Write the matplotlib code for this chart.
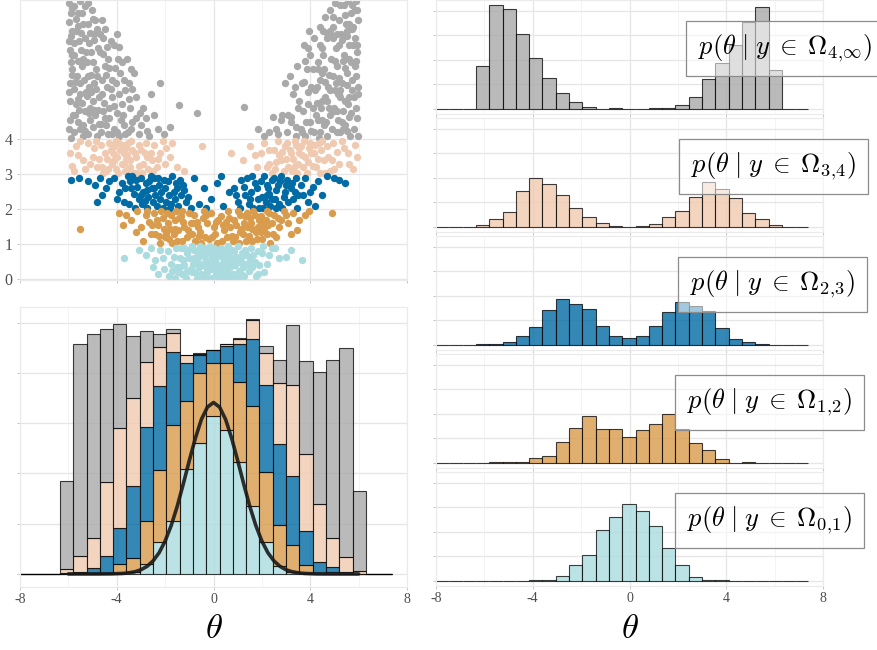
import numpy as np
import matplotlib
matplotlib.use("Agg")
import matplotlib.pyplot as plt
from matplotlib.colors import to_rgba

plt.rcParams['mathtext.fontset'] = 'cm'
plt.rcParams['axes.unicode_minus'] = False
plt.rcParams['font.family'] = ['Liberation Serif', 'DejaVu Serif']

# ---- histogram counts per y-band, bins of width 0.55 from -8 to 7.4 ----
bin_edges_lo = -8.0
bin_w = 0.55
cnt_gray = [0, 0, 0, 175, 422, 405, 306, 207, 124, 63, 26, 7, 0, 1, 0, 0, 1, 1, 15, 46, 120, 185, 262, 355, 416, 160, 0, 0]
cnt_peach = [0, 0, 0, 8, 31, 60, 146, 199, 175, 129, 78, 38, 15, 3, 0, 3, 11, 39, 64, 122, 182, 154, 116, 57, 31, 5, 0, 0]
cnt_blue = [0, 0, 0, 1, 3, 11, 35, 71, 143, 186, 167, 146, 76, 35, 26, 35, 76, 132, 173, 160, 137, 68, 24, 11, 3, 0, 0, 0]
cnt_orange = [0, 0, 0, 0, 1, 1, 1, 19, 27, 86, 143, 190, 136, 139, 106, 133, 159, 200, 139, 82, 53, 16, 0, 3, 0, 0, 0, 0]
cnt_cyan = [0, 0, 0, 0, 0, 0, 0, 1, 4, 20, 64, 106, 208, 261, 314, 286, 222, 135, 63, 16, 4, 1, 0, 0, 0, 0, 0, 0]

# prior density curve (scaled to counts), read at theta = -6 .. 6 step 0.25
curve_theta = np.linspace(-6, 6, 49)
curve_h = [0, 0, 0, 0, 0, 0, 0.1, 0.2, 0.5, 1.0, 2.2, 4.3, 8.3, 15, 25.8, 42.1, 65.3, 96.2, 134.5, 178.8,
           225.6, 270, 307.5, 332, 341, 332, 307.5, 270, 225.6, 178.8, 134.5, 96.2, 65.3, 42.1, 25.8, 15,
           8.3, 4.3, 2.2, 1.0, 0.5, 0.2, 0.1, 0, 0, 0, 0, 0, 0]

# ---- scatter of (theta, y), thinned sample ----
gray_pts = [(-5.98, 4.3), (-5.92, 5.1), (-5.85, 6.0), (-5.96, 6.8), (-5.88, 7.6), (-5.82, 4.7), (-5.94, 5.6),
            (-5.86, 7.1), (-5.99, 7.9), (-5.83, 6.4), (-5.9, 4.05),
            (-5.75, 4.2), (-5.6, 4.5), (-5.4, 4.1), (-5.3, 4.8), (-5.7, 5.0), (-5.5, 5.3), (-5.35, 5.7),
            (-5.65, 5.8), (-5.45, 6.1), (-5.78, 6.4), (-5.28, 6.5), (-5.55, 6.8), (-5.7, 7.1), (-5.4, 7.3),
            (-5.62, 7.6), (-5.3, 7.8), (-5.5, 7.95), (-5.77, 5.45), (-5.38, 4.4), (-5.58, 4.85), (-5.48, 6.55),
            (-5.68, 7.45),
            (-5.2, 4.15), (-5.0, 4.35), (-4.8, 4.1), (-4.9, 4.7), (-5.1, 4.9), (-4.75, 5.2), (-5.15, 5.5),
            (-4.95, 5.6), (-4.85, 6.0), (-5.22, 6.2), (-5.05, 6.5), (-4.78, 6.6), (-4.92, 7.0), (-5.18, 7.3),
            (-5.02, 7.7), (-4.88, 7.4), (-5.12, 4.55), (-4.72, 4.45), (-5.08, 5.85), (-4.98, 5.1),
            (-4.65, 4.2), (-4.45, 4.4), (-4.2, 4.15), (-4.55, 4.8), (-4.3, 4.9), (-4.6, 5.3), (-4.4, 5.5),
            (-4.2, 5.7), (-4.5, 6.1), (-4.68, 6.5), (-4.35, 6.3), (-4.58, 6.9), (-4.25, 6.8), (-4.62, 7.4),
            (-4.48, 4.6), (-4.18, 5.2),
            (-4.1, 4.3), (-3.9, 4.1), (-3.7, 4.4), (-4.0, 4.75), (-3.8, 5.0), (-3.65, 5.4), (-4.05, 5.6),
            (-3.85, 5.9), (-3.95, 6.3), (-4.12, 6.7), (-3.75, 4.7), (-3.98, 7.0),
            (-3.55, 4.2), (-3.35, 4.5), (-3.1, 4.15), (-3.45, 4.9), (-3.2, 5.2), (-3.5, 5.6), (-3.3, 5.9),
            (-3.58, 6.3), (-3.0, 4.4), (-2.75, 4.25), (-2.9, 4.9), (-2.6, 5.3), (-2.3, 4.3), (-2.2, 5.6),
            (-1.42, 4.98), (-0.69, 4.74), (1.28, 4.91),
            (-5.95, 4.55), (-5.97, 5.35), (-5.91, 6.2), (-5.89, 6.95), (-5.96, 7.35), (-5.84, 7.75), (-5.87, 5.85),
            (-5.93, 6.55), (-5.72, 4.7), (-5.52, 4.3), (-5.33, 4.25), (-5.62, 5.15), (-5.42, 5.05), (-5.27, 5.35),
            (-5.72, 5.65), (-5.52, 5.6), (-5.38, 6.3), (-5.6, 6.25), (-5.75, 6.75), (-5.33, 6.9), (-5.48, 7.05),
            (-5.75, 7.8), (-5.45, 7.6), (-5.6, 7.25), (-5.15, 4.75), (-4.95, 4.85), (-4.78, 4.85), (-5.22, 5.25),
            (-5.05, 5.35), (-4.85, 5.45), (-5.18, 5.8), (-4.8, 5.8), (-5.0, 6.2), (-5.15, 6.75), (-4.95, 6.85),
            (-4.8, 7.15), (-5.1, 7.05), (-4.98, 7.45), (-5.2, 7.9), (-4.65, 4.45), (-4.38, 4.15), (-4.3, 4.6),
            (-4.52, 5.05), (-4.25, 5.45), (-4.62, 5.7), (-4.45, 5.85), (-4.3, 6.05), (-4.55, 6.45), (-4.42, 6.65),
            (-4.5, 7.15), (-4.7, 7.0), (-4.0, 4.2), (-3.82, 4.55), (-3.65, 4.15), (-4.1, 4.95), (-3.9, 5.3),
            (-3.72, 5.7), (-4.08, 6.05), (-3.8, 6.2), (-3.9, 6.65), (-3.4, 4.3), (-3.2, 4.6), (-3.5, 5.15),
            (-3.35, 5.45), (-3.05, 4.75), (-2.8, 4.6), (-2.65, 4.1), (-2.45, 4.7), (-2.05, 4.15), (-1.8, 4.35),
            (-3.4, 6.0),
            (2.3, 4.2), (2.6, 4.3), (2.85, 4.7), (2.95, 5.6),
            (3.05, 4.2), (3.2, 4.5), (3.4, 4.1), (3.5, 4.9), (3.3, 5.3), (3.15, 5.8), (3.45, 6.1),
            (3.6, 4.3), (3.8, 4.1), (4.0, 4.5), (3.7, 4.8), (3.9, 5.0), (4.05, 5.5), (3.65, 5.6), (3.85, 6.0),
            (4.0, 6.4), (3.75, 6.7), (3.95, 7.1),
            (4.15, 4.2), (4.35, 4.05), (4.55, 4.4), (4.25, 4.7), (4.45, 4.9), (4.6, 5.2), (4.2, 5.4), (4.4, 5.7),
            (4.58, 6.0), (4.3, 6.2), (4.5, 6.6), (4.15, 6.9), (4.4, 7.2), (4.62, 7.5), (4.28, 5.05), (4.48, 4.55),
            (4.7, 4.1), (4.9, 4.3), (5.1, 4.2), (4.8, 4.7), (5.0, 4.9), (5.15, 5.3), (4.75, 5.5), (4.95, 5.8),
            (5.12, 6.1), (4.85, 6.3), (5.05, 6.6), (4.7, 6.9), (4.92, 7.2), (5.18, 7.4), (4.8, 7.7), (5.02, 7.9),
            (4.68, 5.1), (5.08, 5.6), (4.88, 6.95), (5.16, 4.55),
            (5.25, 4.2), (5.45, 4.4), (5.65, 4.1), (5.35, 4.8), (5.55, 5.0), (5.72, 5.4), (5.3, 5.6), (5.5, 5.9),
            (5.7, 6.2), (5.4, 6.4), (5.6, 6.7), (5.28, 7.0), (5.48, 7.3), (5.68, 7.6), (5.38, 7.85), (5.58, 7.95),
            (5.22, 5.2), (5.62, 4.65), (5.42, 6.05), (5.52, 6.95), (5.74, 7.15), (5.32, 4.5),
            (5.8, 4.3), (5.9, 4.9), (5.97, 5.5), (5.85, 6.1), (5.93, 6.7), (5.78, 7.2), (5.95, 7.7), (5.88, 7.95),
            (5.82, 5.2), (5.99, 4.1),
            (5.94, 4.6), (5.98, 5.3), (5.9, 6.25), (5.86, 6.9), (5.97, 7.4), (5.83, 7.7), (5.88, 5.8),
            (5.95, 6.5), (5.7, 4.75), (5.5, 4.25), (5.36, 4.3), (5.6, 5.2), (5.44, 5.1), (5.25, 5.4),
            (5.74, 5.7), (5.5, 5.55), (5.36, 6.25), (5.62, 6.3), (5.76, 6.7), (5.3, 6.85), (5.5, 7.1),
            (5.72, 7.85), (5.43, 7.55), (5.62, 7.3), (5.12, 4.8), (4.97, 4.8), (4.76, 4.9), (5.2, 5.3),
            (5.03, 5.4), (4.83, 5.4), (5.2, 5.75), (4.78, 5.85), (5.02, 6.25), (5.17, 6.7), (4.93, 6.9),
            (4.82, 7.1), (5.12, 7.0), (4.96, 7.5), (5.22, 7.85), (4.67, 4.5), (4.4, 4.2), (4.32, 4.55),
            (4.5, 5.1), (4.27, 5.5), (4.6, 5.65), (4.47, 5.9), (4.33, 6.0), (4.53, 6.4), (4.4, 6.7),
            (4.52, 7.1), (4.68, 7.05), (4.02, 4.25), (3.84, 4.5), (3.67, 4.2), (4.12, 4.9), (3.92, 5.35),
            (3.74, 5.65), (4.1, 6.0), (3.78, 6.25), (3.92, 6.6), (3.42, 4.35), (3.22, 4.65), (3.52, 5.1),
            (3.37, 5.5), (3.07, 4.7), (2.78, 4.55), (2.67, 4.15), (2.47, 4.65), (2.1, 4.1), (1.85, 4.3)]

peach_pts = [(-5.95, 3.6), (-5.7, 3.8), (-5.4, 3.4), (-5.2, 3.9), (-5.0, 3.5), (-4.8, 3.2), (-4.95, 3.75),
             (-4.65, 3.85), (-4.5, 3.6), (-4.3, 3.9), (-4.2, 3.3), (-4.6, 3.2), (-4.4, 3.45), (-4.25, 3.7),
             (-4.55, 3.05), (-4.35, 3.15),
             (-4.1, 3.8), (-3.9, 3.9), (-3.7, 3.6), (-4.0, 3.5), (-3.8, 3.3), (-3.65, 3.1), (-4.05, 3.15),
             (-3.85, 3.7), (-3.95, 3.05), (-3.75, 3.85), (-4.12, 3.4), (-3.62, 3.45),
             (-3.55, 3.9), (-3.35, 3.7), (-3.1, 3.85), (-3.45, 3.4), (-3.2, 3.5), (-3.5, 3.15), (-3.3, 3.05),
             (-3.08, 3.25), (-3.4, 3.95), (-3.25, 3.6), (-3.58, 3.55),
             (-3.0, 3.7), (-2.8, 3.9), (-2.6, 3.6), (-2.9, 3.3), (-2.7, 3.15), (-2.55, 3.4), (-2.95, 3.05),
             (-2.75, 3.5), (-2.45, 3.85), (-2.2, 3.6), (-2.0, 3.3), (-2.35, 3.2), (-2.1, 3.95),
             (-1.8, 3.5), (-1.5, 3.2), (-1.2, 3.1), (-0.48, 3.8), (0.73, 3.62),
             (-5.85, 3.25), (-5.6, 3.55), (-5.5, 3.95), (-5.3, 3.15), (-5.1, 3.3), (-4.85, 3.95), (-4.75, 3.45),
             (-4.45, 3.1), (-4.15, 3.6), (-3.72, 3.3), (-3.45, 3.2), (-3.15, 3.05), (-2.85, 3.6), (-2.5, 3.1),
             (-2.3, 3.45), (-1.95, 3.75), (-1.7, 3.9), (-5.75, 3.1), (-4.05, 3.95), (-3.6, 3.75),
             (1.2, 3.4), (1.5, 3.8), (1.8, 3.2), (1.95, 3.6), (2.1, 3.9), (2.3, 3.3), (2.4, 3.05),
             (2.5, 3.7), (2.65, 3.95), (2.8, 3.4), (2.95, 3.8), (2.55, 3.15), (2.7, 3.55), (2.9, 3.1), (2.85, 3.65),
             (3.05, 3.9), (3.2, 3.6), (3.4, 3.85), (3.5, 3.3), (3.1, 3.2), (3.3, 3.45), (3.45, 3.05), (3.15, 3.7),
             (3.35, 3.95), (3.52, 3.6), (3.25, 3.1),
             (3.6, 3.8), (3.8, 3.5), (4.0, 3.9), (3.7, 3.2), (3.9, 3.35), (4.05, 3.6), (3.65, 3.55), (3.85, 3.05),
             (3.95, 3.75), (4.15, 3.6), (4.35, 3.9), (4.55, 3.4), (4.25, 3.2), (4.45, 3.7), (4.6, 3.05), (4.3, 3.45),
             (4.7, 3.8), (4.9, 3.4), (5.1, 3.65), (5.0, 3.15), (5.4, 3.75), (5.6, 3.3), (5.95, 3.5),
             (1.7, 3.55), (2.2, 3.2), (2.6, 3.35), (3.0, 3.45), (3.35, 3.25), (3.75, 3.95), (4.1, 3.25),
             (4.4, 3.05), (4.5, 3.95), (4.75, 3.5), (4.95, 3.9), (5.2, 3.3), (5.3, 3.95), (5.55, 3.6),
             (5.75, 3.15), (5.85, 3.85), (4.2, 3.85), (3.55, 3.75), (2.3, 3.7), (4.8, 3.1)]

blue_pts = [(-5.9, 2.85), (-5.55, 2.9), (-4.9, 2.7), (-4.6, 2.4), (-4.3, 2.8),
            (-4.1, 2.9), (-3.9, 2.5), (-3.7, 2.2), (-3.8, 2.75),
            (-3.55, 2.95), (-3.4, 2.6), (-3.2, 2.85), (-3.1, 2.3), (-3.5, 2.15), (-3.3, 2.45), (-3.15, 2.65),
            (-3.45, 2.8), (-3.25, 2.05),
            (-3.0, 2.9), (-2.8, 2.75), (-2.6, 2.95), (-2.9, 2.5), (-2.7, 2.35), (-2.55, 2.6), (-2.95, 2.15),
            (-2.75, 2.05), (-2.85, 2.25), (-2.65, 2.8), (-2.52, 2.2),
            (-2.45, 2.9), (-2.25, 2.7), (-2.05, 2.85), (-2.4, 2.4), (-2.15, 2.5), (-1.98, 2.2), (-2.35, 2.1),
            (-2.2, 2.3), (-2.48, 2.6), (-2.1, 2.05),
            (-1.9, 2.8), (-1.7, 2.95), (-1.5, 2.6), (-1.85, 2.4), (-1.6, 2.3), (-1.45, 2.1), (-1.75, 2.15),
            (-1.55, 2.75), (-1.65, 2.5),
            (-1.35, 2.4), (-1.15, 2.2), (-0.95, 2.05), (-1.25, 2.7), (-1.05, 2.35),
            (-0.6, 2.15), (-0.4, 2.6), (-0.1, 2.3), (0.15, 2.75), (0.4, 2.1), (0.65, 2.5),
            (0.85, 2.6), (1.0, 2.2), (1.15, 2.85), (1.3, 2.4), (1.1, 2.05),
            (1.4, 2.9), (1.55, 2.5), (1.7, 2.75), (1.85, 2.3), (1.45, 2.15), (1.65, 2.05), (1.8, 2.6), (1.6, 2.95),
            (1.95, 2.8), (2.1, 2.95), (2.25, 2.6), (2.4, 2.85), (2.0, 2.35), (2.15, 2.2), (2.3, 2.45), (2.05, 2.05),
            (2.35, 2.1), (2.2, 2.7), (2.42, 2.3),
            (2.5, 2.9), (2.65, 2.7), (2.8, 2.95), (2.95, 2.5), (2.55, 2.3), (2.7, 2.15), (2.9, 2.35), (2.6, 2.55),
            (2.85, 2.05), (2.75, 2.8),
            (3.05, 2.85), (3.2, 2.6), (3.4, 2.9), (3.5, 2.4), (3.1, 2.2), (3.3, 2.3), (3.45, 2.05), (3.25, 2.75),
            (3.6, 2.7), (3.8, 2.9), (4.0, 2.5), (3.9, 2.2), (4.3, 2.8), (4.5, 2.4), (5.0, 2.9), (5.45, 2.75),
            (-5.2, 2.8), (-4.7, 2.9), (-4.45, 2.6), (-4.0, 2.3), (-3.65, 2.6), (-3.35, 2.95), (-3.0, 2.4),
            (-2.75, 2.55), (-2.3, 2.9), (-2.0, 2.6), (-1.8, 2.05), (-1.4, 2.85), (-1.2, 2.55), (-0.8, 2.9),
            (-0.3, 2.05), (0.3, 2.95), (0.95, 2.4), (1.25, 2.65), (1.5, 2.3), (1.9, 2.05), (2.2, 2.4),
            (2.6, 2.05), (3.0, 2.7), (3.35, 2.5), (3.7, 2.4), (4.1, 2.65), (4.7, 2.95), (5.2, 2.85),
            (4.2, 2.1), (-4.8, 2.2)]

orange_pts = [(-5.5, 1.45), (4.9, 1.9), (-3.9, 1.9), (-3.4, 1.7), (-3.15, 1.95),
              (-3.0, 1.5), (-2.8, 1.85), (-2.6, 1.3), (-2.9, 1.1), (-2.65, 1.65),
              (-2.45, 1.9), (-2.3, 1.55), (-2.1, 1.75), (-2.0, 1.2), (-2.4, 1.3), (-2.2, 1.05), (-2.35, 1.7),
              (-2.05, 1.45), (-2.15, 1.95),
              (-1.9, 1.6), (-1.75, 1.85), (-1.55, 1.95), (-1.45, 1.4), (-1.85, 1.15), (-1.65, 1.3), (-1.5, 1.1),
              (-1.8, 1.45), (-1.6, 1.7), (-1.42, 1.75), (-1.7, 1.05), (-1.92, 1.9),
              (-1.35, 1.8), (-1.2, 1.5), (-1.0, 1.9), (-0.9, 1.3), (-1.3, 1.1), (-1.1, 1.2), (-0.95, 1.6), (-1.25, 1.65),
              (-0.8, 1.85), (-0.65, 1.5), (-0.45, 1.75), (-0.35, 1.2), (-0.75, 1.1), (-0.55, 1.35), (-0.4, 1.95),
              (-0.7, 1.65), (-0.5, 1.05),
              (-0.25, 1.6), (-0.1, 1.9), (0.05, 1.3), (0.2, 1.7), (-0.2, 1.15), (0.0, 1.5), (0.15, 1.05),
              (0.3, 1.8), (0.45, 1.4), (0.6, 1.95), (0.75, 1.25), (0.35, 1.1), (0.5, 1.65), (0.7, 1.5), (0.55, 1.2),
              (0.85, 1.7), (1.0, 1.95), (1.15, 1.45), (1.3, 1.8), (0.9, 1.2), (1.05, 1.05), (1.2, 1.3), (0.95, 1.55),
              (1.25, 1.6), (1.1, 1.85),
              (1.4, 1.9), (1.55, 1.6), (1.7, 1.85), (1.85, 1.5), (1.45, 1.25), (1.6, 1.1), (1.75, 1.35), (1.5, 1.75),
              (1.65, 1.95), (1.8, 1.15), (1.38, 1.5), (1.88, 1.7),
              (1.95, 1.8), (2.1, 1.45), (2.3, 1.9), (2.4, 1.6), (2.0, 1.15), (2.2, 1.3), (2.35, 1.05), (2.15, 1.7),
              (2.25, 1.55), (2.5, 1.85), (2.7, 1.5), (2.9, 1.95), (2.6, 1.2), (2.8, 1.7),
              (3.1, 1.6), (3.3, 1.9), (3.45, 1.4), (3.8, 1.85),
              (-3.6, 1.85), (-3.2, 1.35), (-2.75, 1.95), (-2.55, 1.55), (-2.25, 1.25), (-1.95, 1.3), (-1.6, 1.45),
              (-1.3, 1.95), (-1.05, 1.4), (-0.85, 1.6), (-0.6, 1.25), (-0.3, 1.85), (-0.05, 1.2), (0.1, 1.65),
              (0.4, 1.55), (0.65, 1.75), (0.8, 1.1), (1.1, 1.35), (1.35, 1.1), (1.6, 1.45), (1.95, 1.35),
              (2.2, 1.95), (2.45, 1.3), (2.65, 1.75), (3.0, 1.85), (3.2, 1.3), (3.55, 1.7), (3.95, 1.95),
              (-3.75, 1.55), (2.05, 1.6)]

cyan_pts = [(-3.7, 0.6), (3.65, 0.55), (-2.8, 0.7),
            (-2.4, 0.55), (-2.2, 0.85), (-2.05, 0.3), (-2.3, 0.15),
            (-1.9, 0.8), (-1.75, 0.45), (-1.55, 0.9), (-1.45, 0.2), (-1.85, 0.1), (-1.65, 0.65), (-1.5, 0.35),
            (-1.35, 0.9), (-1.25, 0.55), (-1.1, 0.75), (-0.95, 0.3), (-1.3, 0.15), (-1.15, 0.05), (-1.0, 0.6),
            (-0.9, 0.95), (-1.2, 0.4), (-1.05, 0.85), (-0.88, 0.2), (-1.38, 0.35), (-1.08, 0.25),
            (-0.8, 0.85), (-0.7, 0.5), (-0.55, 0.95), (-0.4, 0.7), (-0.35, 0.1), (-0.75, 0.2), (-0.6, 0.35),
            (-0.45, 0.45), (-0.65, 0.75), (-0.5, 0.15), (-0.82, 0.6), (-0.38, 0.9), (-0.52, 0.05), (-0.7, 0.05),
            (-0.32, 0.55), (-0.58, 0.65),
            (-0.28, 0.8), (-0.15, 0.95), (0.0, 0.7), (0.15, 0.85), (0.22, 0.4), (-0.2, 0.5), (-0.05, 0.3),
            (0.1, 0.15), (-0.25, 0.2), (0.05, 0.55), (0.2, 0.05), (-0.1, 0.05), (-0.22, 0.35), (0.12, 0.65),
            (-0.08, 0.6), (0.18, 0.25), (0.02, 0.9), (-0.18, 0.75), (0.08, 0.4),
            (0.3, 0.9), (0.45, 0.75), (0.6, 0.95), (0.75, 0.6), (0.35, 0.45), (0.5, 0.3), (0.65, 0.15), (0.28, 0.1),
            (0.4, 0.6), (0.55, 0.55), (0.7, 0.35), (0.78, 0.85), (0.32, 0.25), (0.48, 0.05), (0.62, 0.7),
            (0.42, 0.2), (0.58, 0.4), (0.72, 0.05),
            (0.85, 0.8), (1.0, 0.95), (1.15, 0.6), (1.3, 0.85), (0.9, 0.4), (1.05, 0.25), (1.2, 0.35), (0.95, 0.65),
            (1.25, 0.1), (1.1, 0.5), (0.82, 0.15), (1.32, 0.45), (1.02, 0.05), (1.18, 0.75),
            (1.4, 0.7), (1.55, 0.9), (1.7, 0.5), (1.85, 0.8), (1.45, 0.25), (1.6, 0.35), (1.75, 0.1), (1.5, 0.55),
            (2.0, 0.75), (2.2, 0.45), (2.4, 0.9), (2.1, 0.2), (2.7, 0.6), (3.2, 0.85),
            (-2.6, 0.9), (-2.1, 0.6), (-1.7, 0.25), (-1.4, 0.6), (-1.2, 0.9), (-0.85, 0.45), (-0.6, 0.85),
            (-0.3, 0.35), (-0.05, 0.9), (0.25, 0.7), (0.5, 0.85), (0.68, 0.5), (0.88, 0.6), (1.12, 0.15),
            (1.4, 0.45), (1.65, 0.7), (1.9, 0.4), (2.3, 0.7), (2.55, 0.9), (3.0, 0.65), (-3.1, 0.85),
            (-2.5, 0.35), (1.85, 0.15), (-1.6, 0.05), (2.05, 0.95)]

band_labels = ['4,\\!\\infty', '3,\\!4', '2,\\!3', '1,\\!2', '0,\\!1']

c_gray, c_peach, c_blue, c_orange, c_cyan = '#A9A9A9', '#EFCAB0', '#006BA4', '#D99B4C', '#AADCDF'

W, H = 877, 650
fig = plt.figure(figsize=(W / 100, H / 100), dpi=100)


def px_box(x0, y0, x1, y1):
    return [x0 / W, 1 - y1 / H, (x1 - x0) / W, (y1 - y0) / H]


def style(ax):
    ax.set_xlim(-8, 8)
    ax.set_xticks([-8, -4, 0, 4, 8])
    ax.set_xticks([-6, -2, 2, 6], minor=True)
    ax.grid(True, which='major', color='#E6E6E6', lw=0.9)
    ax.grid(True, which='minor', axis='x', color='#F2F2F2', lw=0.6)
    ax.set_axisbelow(True)
    for s in ax.spines.values():
        s.set_color('#EBEBEB')
        s.set_linewidth(0.8)
    ax.tick_params(which='major', length=2.5, color='#BDBDBD', width=0.6, labelcolor='#4D4D4D',
                   labelsize=10, pad=2)
    ax.tick_params(which='minor', length=0)


edges = bin_edges_lo + bin_w * np.arange(len(cnt_gray))


def bars(ax, counts, color, bottom=None):
    ax.bar(edges, counts, width=bin_w, align='edge', bottom=bottom,
           facecolor=to_rgba(color, 0.8), edgecolor=(0, 0, 0, 0.75), linewidth=0.8)


# top-left: scatter
ax_sc = fig.add_axes(px_box(20, 0, 407, 280))
style(ax_sc)
for pts, col in [(gray_pts, c_gray), (peach_pts, c_peach), (blue_pts, c_blue),
                 (orange_pts, c_orange), (cyan_pts, c_cyan)]:
    p = np.array(pts)
    ax_sc.scatter(p[:, 0], p[:, 1], s=28, color=col, linewidths=0)
ax_sc.set_ylim(-0.02, 7.98)
ax_sc.set_yticks([0, 1, 2, 3, 4])
ax_sc.tick_params(axis='y', labelsize=11.5, pad=3)
ax_sc.tick_params(axis='x', labelbottom=False)

# bottom-left: stacked histogram + prior curve
ax_st = fig.add_axes(px_box(20, 307, 407, 587))
style(ax_st)
base = np.zeros(len(cnt_gray))
for counts, col in [(cnt_cyan, c_cyan), (cnt_orange, c_orange), (cnt_blue, c_blue),
                    (cnt_peach, c_peach), (cnt_gray, c_gray)]:
    bars(ax_st, counts, col, bottom=base)
    base = base + np.array(counts)
ax_st.plot(curve_theta, curve_h, color='#1A1A1A', lw=2.6, alpha=0.9, solid_capstyle='round')
ax_st.set_ylim(-26, 531)
ax_st.set_yticks([0, 100, 200, 300, 400, 500])
ax_st.tick_params(axis='y', labelleft=False)

# right: one panel per band
right_counts = [(cnt_gray, c_gray), (cnt_peach, c_peach), (cnt_blue, c_blue),
                (cnt_orange, c_orange), (cnt_cyan, c_cyan)]
box_left = [685.7, 679, 677.7, 675, 675]
for i, (counts, col) in enumerate(right_counts):
    top = 118 * i
    ax = fig.add_axes(px_box(436, top, 823, top + 113.5))
    style(ax)
    bars(ax, counts, col)
    ax.set_ylim(-19.6, 443.7)
    ax.set_yticks([0, 100, 200, 300, 400])
    ax.tick_params(axis='y', labelleft=False)
    if i < 4:
        ax.tick_params(axis='x', labelbottom=False)
    fig.text((box_left[i] + 12) / W, 1 - (top + 48.3) / H,
             r'$p(\theta\;|\;y\;\in\;\Omega_{%s})$' % band_labels[i],
             fontsize=19, ha='left', va='center',
             bbox=dict(boxstyle='square,pad=0.45', fc=(1, 1, 1, 0.55), ec='#8C8C8C', lw=0.9))

fig.text(213.5 / W, 1 - 630 / H, r'$\theta$', fontsize=25, ha='center', va='center')
fig.text(629.7 / W, 1 - 630 / H, r'$\theta$', fontsize=25, ha='center', va='center')

fig.savefig('out.png', dpi=100)
